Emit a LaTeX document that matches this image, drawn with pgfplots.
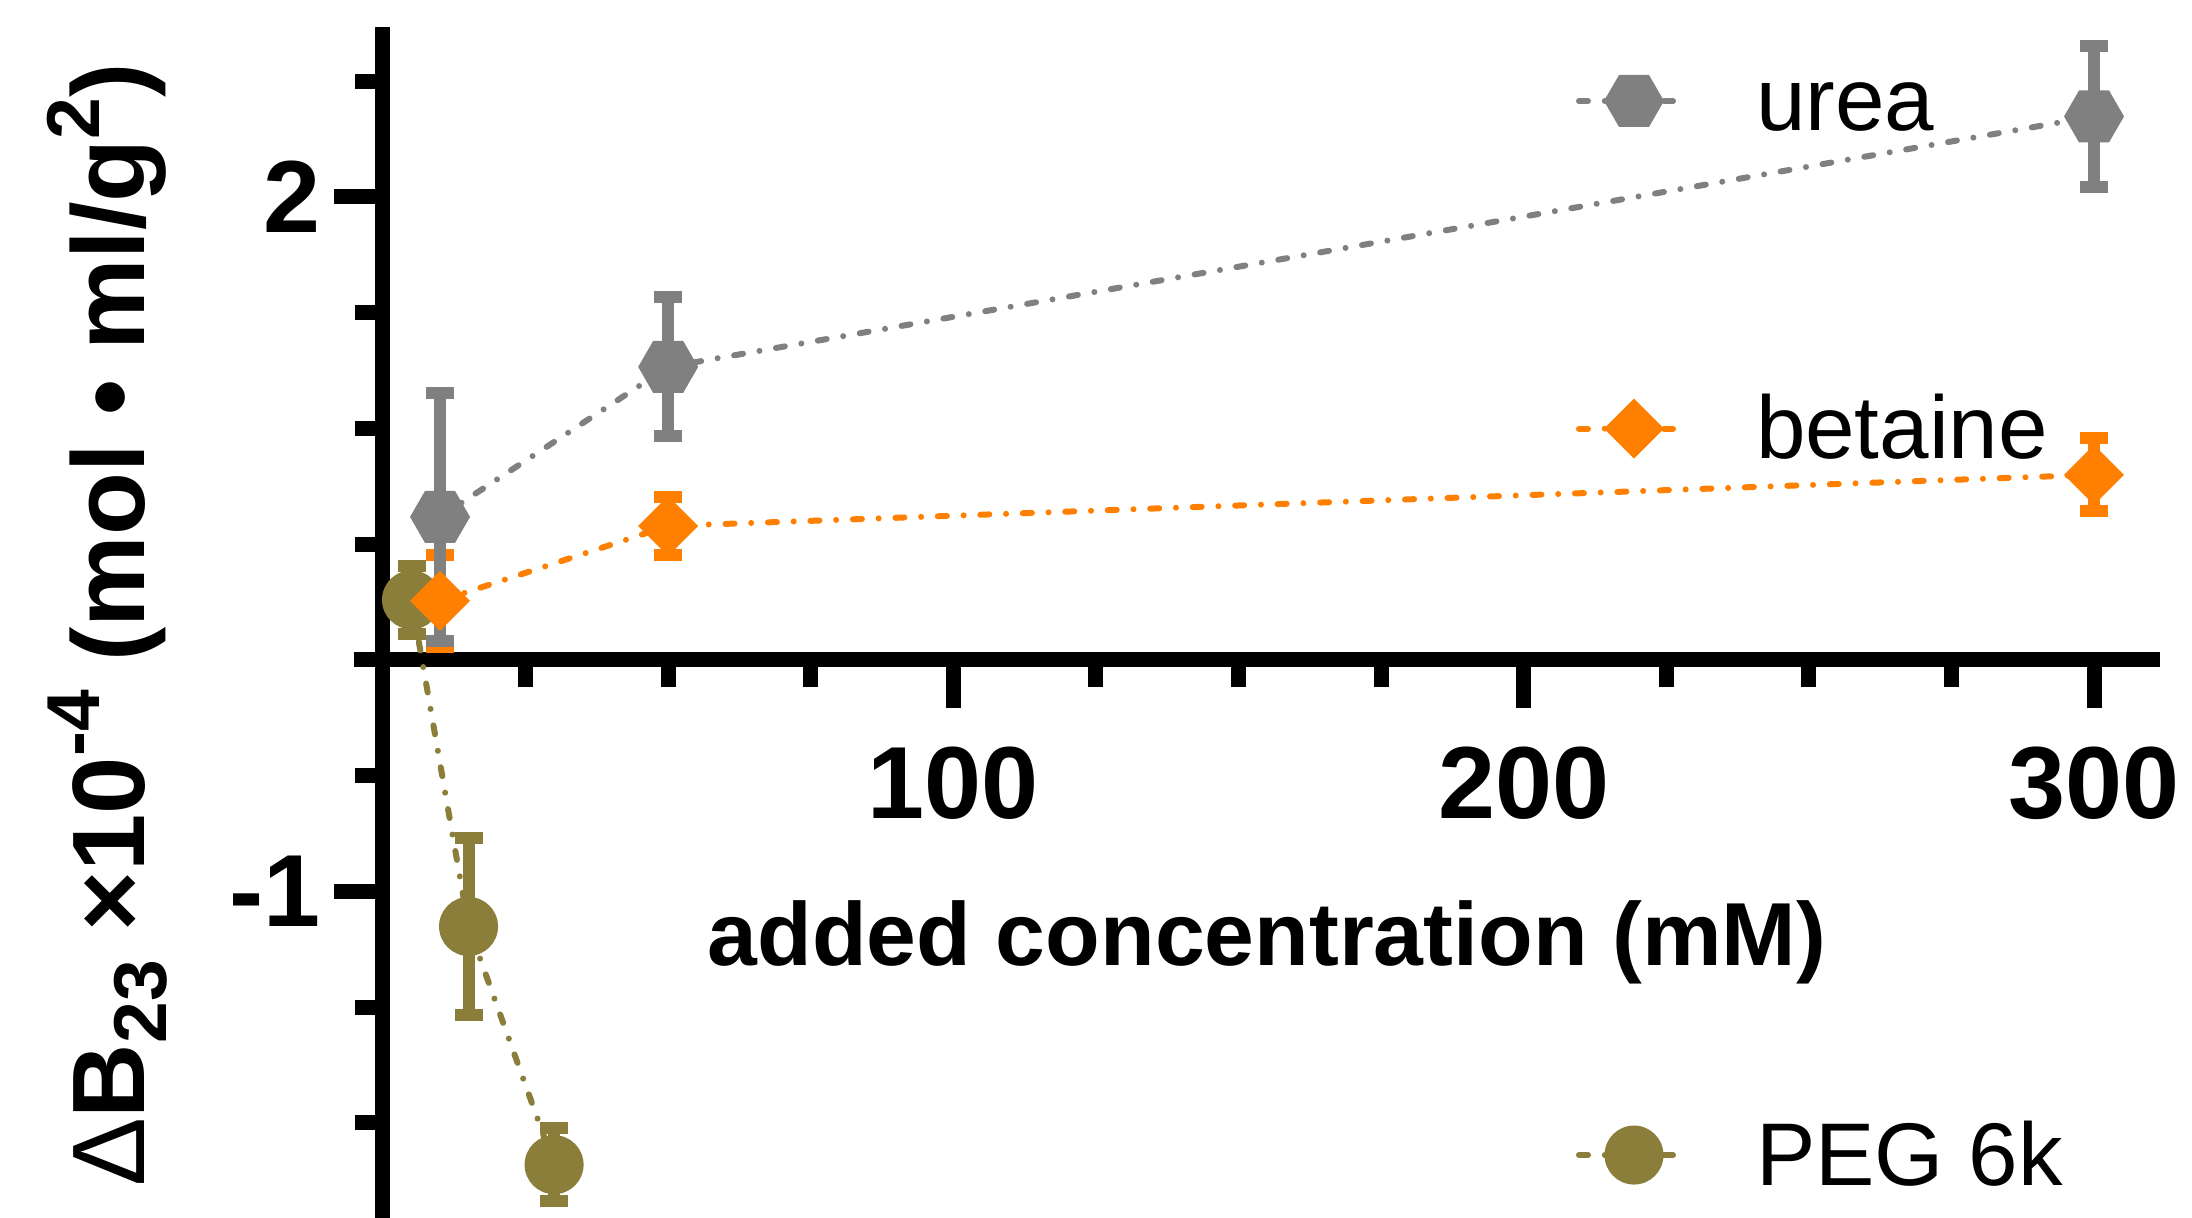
\documentclass[border=0pt]{standalone}
\usepackage{pgfplots}
\pgfplotsset{compat=1.18}
\usepackage{fontspec}
\setmainfont{Liberation Sans}
\definecolor{ugray}{RGB}{128,128,128}
\definecolor{borange}{RGB}{255,128,0}
\definecolor{polive}{RGB}{139,125,58}

\pgfdeclareplotmark{hexa}{%
 \pgfpathmoveto{\pgfqpoint{6pt}{0pt}}%
 \pgfpathlineto{\pgfqpoint{3pt}{5.2pt}}%
 \pgfpathlineto{\pgfqpoint{-3pt}{5.2pt}}%
 \pgfpathlineto{\pgfqpoint{-6pt}{0pt}}%
 \pgfpathlineto{\pgfqpoint{-3pt}{-5.2pt}}%
 \pgfpathlineto{\pgfqpoint{3pt}{-5.2pt}}%
 \pgfpathclose\pgfusepathqfill}
\pgfdeclareplotmark{bdiam}{%
 \pgfpathmoveto{\pgfqpoint{6pt}{0pt}}%
 \pgfpathlineto{\pgfqpoint{0pt}{6pt}}%
 \pgfpathlineto{\pgfqpoint{-6pt}{0pt}}%
 \pgfpathlineto{\pgfqpoint{0pt}{-6pt}}%
 \pgfpathclose\pgfusepathqfill}
\pgfdeclareplotmark{bcirc}{\pgfpathcircle{\pgfpointorigin}{5.9pt}\pgfusepathqfill}

\pgfplotsset{
 dd/.style={line width=1.2pt, line cap=round, dash pattern=on 1.8pt off 3.35pt on 0pt off 3.35pt},
 ureas/.style={color=ugray, dd, mark=hexa, mark options={solid}},
 bets/.style={color=borange, dd, mark=bdiam, mark options={solid}},
 pegs/.style={color=polive, dd, mark=bcirc, mark options={solid}},
 errs/.style={error bars/.cd, y dir=both, y explicit,
   error bar style={line width=2.4pt, solid, line cap=butt},
   error mark options={line width=2.4pt, mark size=2.8pt, solid, line cap=butt, rotate=90}},
}

\pgfplotstableread{
x y e
10 0.618 0.535
50 1.266 0.300
300 2.348 0.306
}\ureadata
\pgfplotstableread{
x y e
10 0.255 0.200
50 0.579 0.125
300 0.800 0.158
}\betdata
\pgfplotstableread{
x y e
5 0.260 0.148
15 -1.151 0.382
30 -2.180 0.157
}\pegdata

\newcommand{\legax}[3]{%
\begin{axis}[at={(0pt,0pt)}, anchor=south west, scale only axis,
 width=438.4pt, height=243.4pt, xmin=0, xmax=1, ymin=0, ymax=1, hide axis,
 legend image code/.code={\draw[mark repeat=2,mark phase=2,##1] plot coordinates {(0pt,0pt)(11pt,0pt)(22pt,0pt)};},
 legend cell align=left,
 legend style={at={(0.7185,#3)}, anchor=west, draw=none, fill=none, inner sep=0pt,
   column sep=12.8pt, font=\fontsize{17.8}{20}\selectfont,
   nodes={inner sep=0pt, text height=12pt, text depth=0pt}}]
\addlegendimage{#1}
\addlegendentry{#2}
\end{axis}}

\begin{document}
\begin{tikzpicture}
\begin{axis}[
 at={(70.78pt,-8.98pt)}, anchor=south west,
 x=1.14067pt, y=46.3pt,
 xmin=-5.1, xmax=311.6, ymin=-2.6, ymax=2.734,
 enlargelimits=false, clip=false,
 axis lines=middle,
 axis line style={line width=3pt, -},
 xtick={100,200,300}, xticklabels={100,200,300},
 minor xtick={25,50,75,125,150,175,225,250,275},
 ytick={-1,2}, yticklabels={-1,2},
 minor ytick={-2.5,-2,-1.5,-0.5,0.5,1,1.5,2.5},
 tick align=outside,
 major tick length=9.7pt, minor tick length=5.5pt,
 every tick/.style={black, line width=3pt},
 xticklabel style={font=\fontsize{20.5}{24}\selectfont\bfseries, anchor=base, inner sep=0pt, yshift=-22pt},
 yticklabel style={font=\fontsize{20.5}{24}\selectfont\bfseries, anchor=east, inner sep=0pt, xshift=-2.5pt},
 every axis x label/.style={at={(axis description cs:0.5055,0.2404)}, anchor=base, font=\fontsize{17.9}{22}\selectfont\bfseries},
 every axis y label/.style={at={(axis description cs:-0.1157,0.5158)}, anchor=base, rotate=90, font=\fontsize{20.6}{24}\selectfont\bfseries},
 xlabel={added concentration (mM)},
 ylabel={{\mdseries Δ}B\raisebox{-4.4pt}{\fontsize{15}{15}\selectfont 23} ×10\raisebox{9pt}{\fontsize{15}{15}\selectfont -4} (mol • ml/g\raisebox{9pt}{\fontsize{15}{15}\selectfont 2})},
]
\addplot[pegs, errs] table[x=x, y=y, y error=e] {\pegdata};
\addplot[bets, errs] table[x=x, y=y, y error=e] {\betdata};
\addplot[ureas, errs] table[x=x, y=y, y error=e] {\ureadata};
\end{axis}
\legax{ureas}{urea}{0.9170}
\legax{bets}{betaine}{0.6478}
\legax{pegs}{PEG 6k}{0.0509}
\pgfresetboundingbox
\useasboundingbox (0,0) rectangle (438.4pt,243.4pt);
\end{tikzpicture}
\end{document}
